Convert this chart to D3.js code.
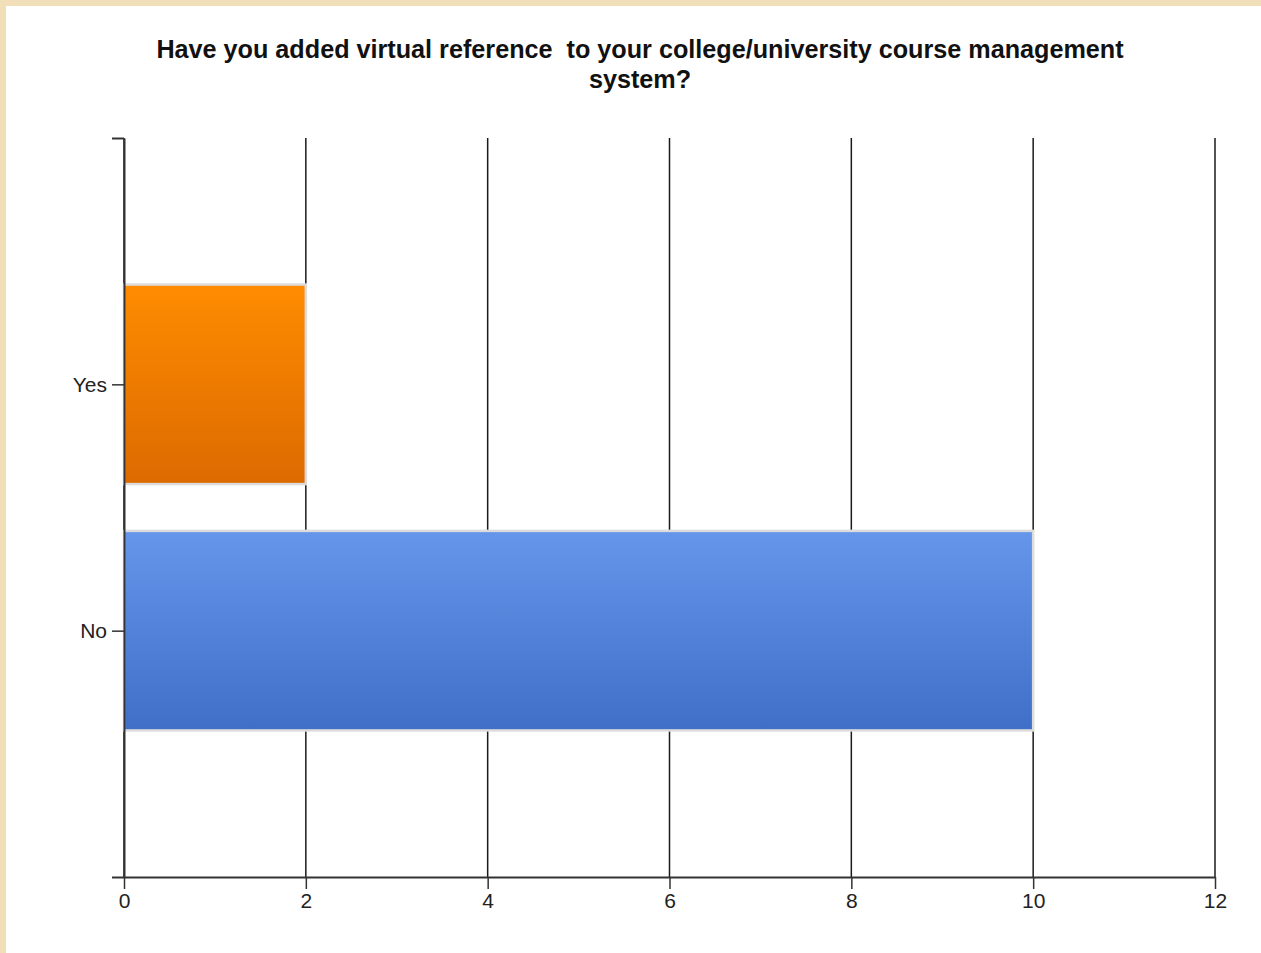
<!DOCTYPE html>
<html>
<head>
<meta charset="utf-8">
<script src="https://cdn.jsdelivr.net/npm/d3@7"></script>
<style>
  body { margin: 0; background: #f1dfb9; }
  svg { display: block; }
</style>
</head>
<body>
<div id="bar_chart"></div>
<script>
// chart data
const categories = ["Yes", "No"];
const counts = [2, 10];
const xTicks = [0, 2, 4, 6, 8, 10, 12];
const titleLines = ["Have you added virtual reference  to your college/university course management", "system?"];

function renderBarChart() {
    const W = 1261, H = 953;
    const margin = {top: 138, right: 46, bottom: 76, left: 124},
    width = W - margin.left - margin.right,
    height = H - margin.top - margin.bottom;

    let root = d3.select("#bar_chart")
    .append("svg")
    .attr("width", W)
    .attr("height", H);

    // parchment background + white panel
    root.append("rect")
    .attr("x", 0).attr("y", 0).attr("width", W).attr("height", H)
    .attr("fill", "#f1dfb9");
    root.append("rect")
    .attr("x", 6).attr("y", 6).attr("width", W - 6).attr("height", H - 6)
    .attr("fill", "#ffffff");

    // gradients for bars
    let defs = root.append("defs");
    const grads = [
        {id: "gYes", top: "#ff8c00", bottom: "#dc6a00"},
        {id: "gNo", top: "#6596ec", bottom: "#3f6fc6"}
    ];
    grads.forEach(g => {
        let lg = defs.append("linearGradient")
        .attr("id", g.id).attr("x1", 0).attr("y1", 0).attr("x2", 0).attr("y2", 1);
        lg.append("stop").attr("offset", "0%").attr("stop-color", g.top);
        lg.append("stop").attr("offset", "100%").attr("stop-color", g.bottom);
    });

    // title
    root.append("text")
    .attr("x", 640)
    .attr("y", 58)
    .attr("text-anchor", "middle")
    .style("font-family", "Liberation Sans, Arial, sans-serif")
    .style("font-weight", "bold")
    .style("font-size", "25.2px")
    .style("white-space", "pre")
    .attr("fill", "#111")
    .selectAll("tspan")
    .data(titleLines)
    .enter()
    .append("tspan")
        .attr("x", 640)
        .attr("dy", (d, i) => i === 0 ? 0 : 30)
        .text(d => d);

    let svg = root.append("g")
    .attr("transform", `translate(${margin.left},${margin.top})`);

    // X scale
    var x = d3.scaleLinear()
    .domain([0, 12])
    .range([0, width]);

    // Y scale: categories at 1/3 and 2/3 of the axis
    var y = d3.scalePoint()
    .domain(categories)
    .range([0, height])
    .padding(1);
    const barH = y.step() * 0.81;

    // vertical grid lines
    svg.selectAll("line.grid")
    .data(xTicks)
    .enter()
    .append("line")
        .attr("class", "grid")
        .attr("x1", d => x(d)).attr("x2", d => x(d))
        .attr("y1", 0).attr("y2", height)
        .attr("stroke", "#1a1a1a")
        .attr("stroke-width", 1.5);

    // bars
    const data = categories.map((c, i) => ({name: c, value: counts[i]}));
    svg.selectAll("rect.bar")
    .data(data)
    .enter()
    .append("rect")
        .attr("class", "bar")
        .attr("x", x(0))
        .attr("y", d => y(d.name) - barH / 2)
        .attr("width", d => x(d.value) - x(0))
        .attr("height", barH)
        .attr("fill", (d, i) => `url(#${grads[i].id})`)
        .attr("stroke", "#dcdcdc")
        .attr("stroke-width", 2.5);

    const fontStyle = sel => sel
        .style("font-family", "Liberation Sans, Arial, sans-serif")
        .style("font-size", "21px")
        .attr("fill", "#222");

    // X axis
    let xAxis = svg.append("g")
    .attr("transform", `translate(0, ${height})`)
    .call(d3.axisBottom(x).tickValues(xTicks).tickSize(12).tickSizeOuter(0).tickPadding(4));
    xAxis.select(".domain").attr("stroke", "#333").attr("stroke-width", 2).attr("d", `M-12,0.5H${width}`);
    xAxis.selectAll(".tick line").attr("stroke", "#333").attr("stroke-width", 1.5);
    xAxis.selectAll("text").call(fontStyle);

    // Y axis
    let yAxis = svg.append("g")
    .call(d3.axisLeft(y).tickSize(12).tickSizeOuter(0).tickPadding(5));
    yAxis.select(".domain").attr("stroke", "#333").attr("stroke-width", 2);
    yAxis.selectAll(".tick line").attr("stroke", "#333").attr("stroke-width", 1.5);
    yAxis.selectAll("text").call(fontStyle);
    // top boundary tick
    yAxis.append("line")
    .attr("x1", -12).attr("x2", 0).attr("y1", 0.5).attr("y2", 0.5)
    .attr("stroke", "#333").attr("stroke-width", 2);
}

renderBarChart();
</script>
</body>
</html>
